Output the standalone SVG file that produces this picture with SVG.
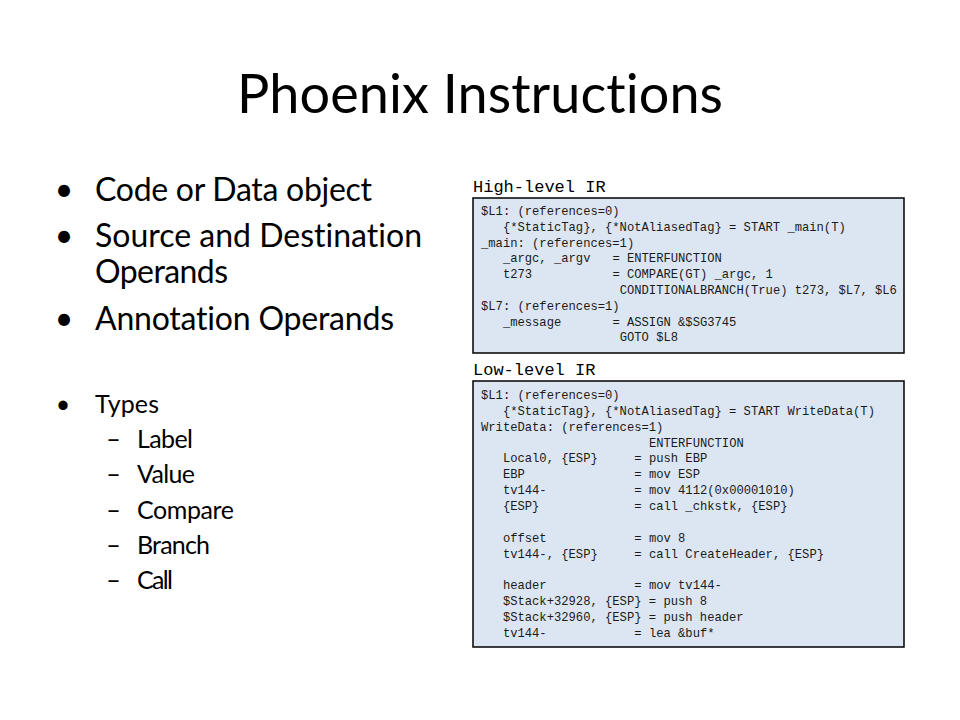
<svg xmlns="http://www.w3.org/2000/svg" width="960" height="720" viewBox="0 0 960 720">
<style>
.t { font-family: Lato, "Liberation Sans", sans-serif; fill: #000; font-variant-ligatures: none; }
.h1 { font-size: 54px; }
.b1 { font-size: 32px; }
.b2 { font-size: 25px; }
.code { font-family: "Liberation Mono", "DejaVu Sans Mono", monospace; font-size: 12.17px; fill: #1a1a1a; }
.lbl { font-family: "Liberation Mono", "DejaVu Sans Mono", monospace; font-size: 17px; fill: #000; }
.box { fill: #dce6f2; stroke: #000; stroke-width: 1.5; }
</style>
<rect width="960" height="720" fill="#fff"/>
<g id="title">
  <text class="t h1" x="237" y="113" textLength="486">Phoenix Instructions</text>
</g>
<g id="bullets">
  <text class="t b1" x="64" y="201" text-anchor="middle">•</text>
  <text class="t b1" x="95" y="201" textLength="277">Code or Data object</text>
  <text class="t b1" x="64" y="247" text-anchor="middle">•</text>
  <text class="t b1" x="95" y="247" textLength="327">Source and Destination</text>
  <text class="t b1" x="95" y="283" textLength="133">Operands</text>
  <text class="t b1" x="64" y="330" text-anchor="middle">•</text>
  <text class="t b1" x="95" y="330" textLength="299">Annotation Operands</text>
  <text class="t b2" x="63" y="413" text-anchor="middle">•</text>
  <text class="t b2" x="95" y="413" textLength="64">Types</text>
  <text class="t b2" x="113.5" y="448" text-anchor="middle">–</text>
  <text class="t b2" x="137" y="448" textLength="56">Label</text>
  <text class="t b2" x="113.5" y="483" text-anchor="middle">–</text>
  <text class="t b2" x="137" y="483" textLength="58">Value</text>
  <text class="t b2" x="113.5" y="519" text-anchor="middle">–</text>
  <text class="t b2" x="137" y="519" textLength="97">Compare</text>
  <text class="t b2" x="113.5" y="554" text-anchor="middle">–</text>
  <text class="t b2" x="137" y="554" textLength="73">Branch</text>
  <text class="t b2" x="113.5" y="589" text-anchor="middle">–</text>
  <text class="t b2" x="137" y="589" textLength="36">Call</text>
</g>
<g id="high-level-ir">
  <text class="lbl" x="473" y="192">High-level IR</text>
  <rect class="box" x="473" y="198" width="431" height="155"/>
  <text class="code" y="215"><tspan x="481">$L1: (references=0)</tspan></text>
  <text class="code" y="230.8"><tspan x="502.9">{*StaticTag}, {*NotAliasedTag} = START _main(T)</tspan></text>
  <text class="code" y="246.6"><tspan x="481">_main: (references=1)</tspan></text>
  <text class="code" y="262.4"><tspan x="502.9">_argc, _argv</tspan><tspan x="612.4">= ENTERFUNCTION</tspan></text>
  <text class="code" y="278.2"><tspan x="502.9">t273</tspan><tspan x="612.4">= COMPARE(GT) _argc, 1</tspan></text>
  <text class="code" y="294"><tspan x="619.7">CONDITIONALBRANCH(True) t273, $L7, $L6</tspan></text>
  <text class="code" y="309.8"><tspan x="481">$L7: (references=1)</tspan></text>
  <text class="code" y="325.6"><tspan x="502.9">_message</tspan><tspan x="612.4">= ASSIGN &amp;$SG3745</tspan></text>
  <text class="code" y="341.4"><tspan x="619.7">GOTO $L8</tspan></text>
</g>
<g id="low-level-ir">
  <text class="lbl" x="473" y="375">Low-level IR</text>
  <rect class="box" x="473" y="381" width="431" height="266"/>
  <text class="code" y="399"><tspan x="481">$L1: (references=0)</tspan></text>
  <text class="code" y="414.85"><tspan x="502.9">{*StaticTag}, {*NotAliasedTag} = START WriteData(T)</tspan></text>
  <text class="code" y="430.7"><tspan x="481">WriteData: (references=1)</tspan></text>
  <text class="code" y="446.55"><tspan x="648.9">ENTERFUNCTION</tspan></text>
  <text class="code" y="462.4"><tspan x="502.9">Local0, {ESP}</tspan><tspan x="634.3">= push EBP</tspan></text>
  <text class="code" y="478.25"><tspan x="502.9">EBP</tspan><tspan x="634.3">= mov ESP</tspan></text>
  <text class="code" y="494.1"><tspan x="502.9">tv144-</tspan><tspan x="634.3">= mov 4112(0x00001010)</tspan></text>
  <text class="code" y="509.95"><tspan x="502.9">{ESP}</tspan><tspan x="634.3">= call _chkstk, {ESP}</tspan></text>
  <text class="code" y="541.65"><tspan x="502.9">offset</tspan><tspan x="634.3">= mov 8</tspan></text>
  <text class="code" y="557.5"><tspan x="502.9">tv144-, {ESP}</tspan><tspan x="634.3">= call CreateHeader, {ESP}</tspan></text>
  <text class="code" y="589.2"><tspan x="502.9">header</tspan><tspan x="634.3">= mov tv144-</tspan></text>
  <text class="code" y="605.05"><tspan x="502.9">$Stack+32928, {ESP} = push 8</tspan></text>
  <text class="code" y="620.9"><tspan x="502.9">$Stack+32960, {ESP} = push header</tspan></text>
  <text class="code" y="636.75"><tspan x="502.9">tv144-</tspan><tspan x="634.3">= lea &amp;buf*</tspan></text>
</g>
</svg>
